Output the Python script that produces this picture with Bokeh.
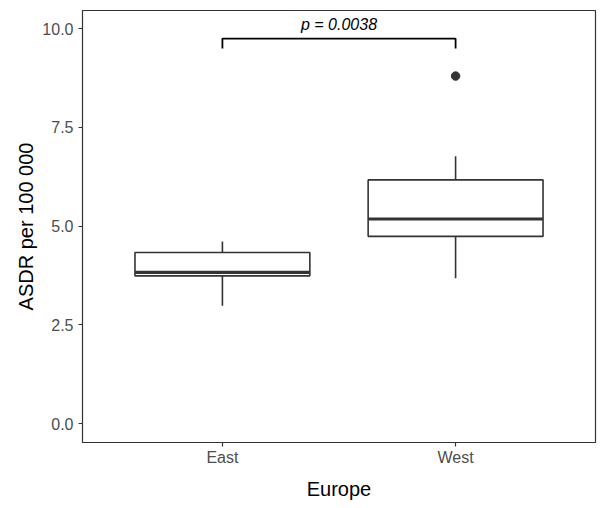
from bokeh.plotting import figure
from bokeh.models import Range1d, FixedTicker
from bokeh.embed import file_html
from bokeh.resources import INLINE
from bokeh.core.properties import value

# ---- data ----
categories = ["East", "West"]
cat_pos = [1, 2]
q1 = [3.74, 4.74]
median = [3.83, 5.18]
q3 = [4.33, 6.17]
whisker_low = [2.98, 3.68]
whisker_high = [4.61, 6.77]
outlier_pos = [2]
outlier_val = [8.80]
y_ticks = [0, 2.5, 5, 7.5, 10]
y_tick_labels = ["0.0", "2.5", "5.0", "7.5", "10.0"]
bracket_top = 9.75
bracket_tip = 9.50
label_y = 9.96
p_label = "p = 0.0038"
box_width = 0.75

FONT = "Liberation Sans"
DARK = "#333333"

p = figure(width=602, height=508, output_backend="svg", toolbar_location=None,
           x_range=Range1d(0.4, 2.6), y_range=Range1d(-0.48, 10.46),
           min_border_left=82, min_border_right=7, min_border_top=10, min_border_bottom=66,
           background_fill_color="white", border_fill_color="white")

p.outline_line_color = DARK
p.outline_line_width = 1.2

p.xgrid.grid_line_color = None
p.ygrid.grid_line_color = None

# axes
p.xaxis.ticker = FixedTicker(ticks=cat_pos)
p.xaxis.major_label_overrides = {c: n for c, n in zip(cat_pos, categories)}
p.yaxis.ticker = FixedTicker(ticks=y_ticks)
p.yaxis.major_label_overrides = {t: l for t, l in zip(y_ticks, y_tick_labels)}
p.xaxis.axis_label = "Europe"
p.yaxis.axis_label = "ASDR per 100 000"
for ax in (p.xaxis, p.yaxis):
    ax.axis_line_color = None
    ax.major_tick_line_color = DARK
    ax.major_tick_line_width = 1.2
    ax.major_tick_out = 4
    ax.major_tick_in = 0
    ax.minor_tick_line_color = None
    ax.major_label_text_font = FONT
    ax.major_label_text_font_size = "16px"
    ax.major_label_text_color = "#4D4D4D"
    ax.axis_label_text_font = FONT
    ax.axis_label_text_font_size = "20px"
    ax.axis_label_text_font_style = "normal"
    ax.axis_label_text_color = "black"
p.xaxis.major_label_standoff = 2
p.xaxis.axis_label_standoff = 9
p.yaxis.major_label_standoff = 5
p.yaxis.axis_label_standoff = 2

half = box_width / 2
left = [c - half for c in cat_pos]
right = [c + half for c in cat_pos]

# whiskers
p.segment(x0=cat_pos, x1=cat_pos, y0=q3, y1=whisker_high, line_color=DARK, line_width=1.6)
p.segment(x0=cat_pos, x1=cat_pos, y0=whisker_low, y1=q1, line_color=DARK, line_width=1.6)
# boxes
p.quad(left=left, right=right, bottom=q1, top=q3, fill_color="white",
       line_color=DARK, line_width=1.6)
# medians
p.segment(x0=left, x1=right, y0=median, y1=median, line_color=DARK, line_width=3.2)
# outliers
p.scatter(x=outlier_pos, y=outlier_val, size=8.5, fill_color=DARK, line_color=DARK)

# significance bracket
p.line(x=[cat_pos[0], cat_pos[0], cat_pos[1], cat_pos[1]],
       y=[bracket_tip, bracket_top, bracket_top, bracket_tip],
       line_color="black", line_width=1.8)
p.text(x=[sum(cat_pos) / 2], y=[label_y], text=[p_label], y_offset=-6,
       text_font=value(FONT), text_font_style="italic", text_font_size="16px",
       text_align="center", text_baseline="alphabetic", text_color="black")

open("out.html", "w").write(file_html(p, INLINE))
